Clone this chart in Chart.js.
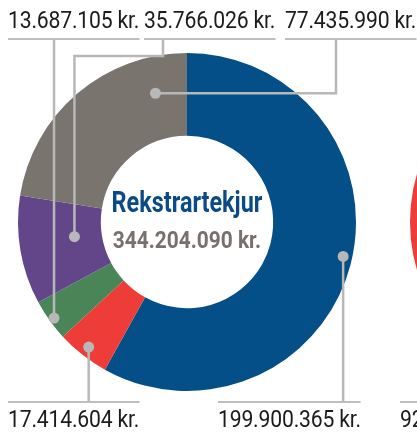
<!DOCTYPE html>
<html>
<head>
<meta charset="utf-8">
<script src="https://cdn.jsdelivr.net/npm/chart.js@4/dist/chart.umd.min.js"></script>
<style>
  html, body { margin: 0; padding: 0; }
  body {
    width: 417px; height: 436px; overflow: hidden; position: relative; background: #fff;
    font-family: Roboto, "Liberation Sans", sans-serif;
  }
  canvas { position: absolute; }
  .lbl {
    position: absolute; font-size: 23px; line-height: 22px; color: #1b1b1b; white-space: nowrap;
    letter-spacing: -0.2px; transform: scaleX(0.92); transform-origin: 0 0;
  }
  .lbl.top { top: 10px; padding-bottom: 6px; border-bottom: 2px solid #bfbfbf; }
  .lbl.bottom { top: 401px; padding-top: 6px; border-top: 2px solid #bfbfbf; }
  #center { position: absolute; left: 87px; width: 200px; top: 186px; text-align: center; font-weight: bold; }
  #center div { white-space: nowrap; }
  #center .title { font-size: 30px; line-height: 32px; color: #0b4a85; transform: scaleX(0.78); }
  #center .total { font-size: 24px; line-height: 30px; color: #77716d; margin-top: 7px; transform: scaleX(0.87); }
</style>
</head>
<body>
<canvas id="main" width="417" height="436" style="left:0;top:0"></canvas>
<canvas id="next" width="340" height="340" style="left:410px;top:52px"></canvas>

<div id="center"><div class="title">Rekstrartekjur</div><div class="total" id="total"></div></div>

<div class="lbl top" id="lbl2" style="left:8px"></div>
<div class="lbl top" id="lbl3" style="left:144px"></div>
<div class="lbl top" id="lbl4" style="left:285px"></div>
<div class="lbl bottom" id="lbl1" style="left:8px"></div>
<div class="lbl bottom" id="lbl0" style="left:218px"></div>
<div class="lbl bottom" style="left:400px">92</div>

<script>
// data (Icelandic krónur)
const categories = ['A', 'B', 'C', 'D', 'E'];
const values = [199900365, 17414604, 13687105, 35766026, 77435990];
const colors = ['#044f88', '#ee3d38', '#4a8558', '#634689', '#7a746f'];
// the next doughnut, cut off by the right edge
const nextValues = [1];
const nextColors = ['#ee3d38'];

const TOP_RULE = 40;
const BOTTOM_RULE = 402;
const lineColor = '#b8b8b8';

function kr(v) {
    return String(v).replace(/\B(?=(\d{3})+(?!\d))/g, '.') + ' kr.';
}

// where each dot sits inside its slice (t = along the arc, r = across the ring) and how the line runs
const leaders = [
    { index: 0, t: 0.49, r: 0.89, route: p => [[p[0], p[1]], [p[0], BOTTOM_RULE]] },
    { index: 1, t: 0.50, r: 0.88, route: p => [[p[0], p[1]], [p[0], BOTTOM_RULE]] },
    { index: 2, t: 0.48, r: 0.94, route: p => [[p[0], p[1]], [p[0], TOP_RULE]] },
    { index: 3, t: 0.56, r: 0.33, route: p => [[p[0], p[1]], [p[0], 56], [163, 56], [163, TOP_RULE]] },
    { index: 4, t: 0.83, r: 0.56, route: p => [[p[0], p[1]], [336, p[1]], [336, TOP_RULE]] }
];

const leaderPlugin = {
    id: 'leaders',
    afterDatasetsDraw(chart) {
        const ctx = chart.ctx;
        const arcs = chart.getDatasetMeta(0).data;
        ctx.save();
        ctx.strokeStyle = lineColor;
        ctx.fillStyle = lineColor;
        ctx.lineWidth = 2.5;
        leaders.forEach(l => {
            const a = arcs[l.index];
            const ang = a.startAngle + l.t * (a.endAngle - a.startAngle);
            const rad = a.innerRadius + l.r * (a.outerRadius - a.innerRadius);
            const p = [a.x + rad * Math.cos(ang), a.y + rad * Math.sin(ang)];
            const pts = l.route(p);
            ctx.beginPath();
            ctx.moveTo(pts[0][0], pts[0][1]);
            for (let i = 1; i < pts.length; i++) ctx.lineTo(pts[i][0], pts[i][1]);
            ctx.stroke();
            ctx.beginPath();
            ctx.arc(p[0], p[1], 5.5, 0, Math.PI * 2);
            ctx.fill();
        });
        ctx.restore();
    }
};

values.forEach((v, i) => {
    document.getElementById('lbl' + i).textContent = kr(v);
});
document.getElementById('total').textContent = kr(values.reduce((s, v) => s + v, 0));

new Chart(document.getElementById('main').getContext('2d'), {
    type: 'doughnut',
    data: {
        labels: categories,
        datasets: [{ data: values, backgroundColor: colors, borderWidth: 0 }]
    },
    options: {
        responsive: false,
        animation: false,
        cutout: '51%',
        layout: { padding: { left: 18, right: 61, top: 53, bottom: 45 } },
        plugins: { legend: { display: false }, tooltip: { enabled: false } }
    },
    plugins: [leaderPlugin]
});

new Chart(document.getElementById('next').getContext('2d'), {
    type: 'doughnut',
    data: { labels: ['next'], datasets: [{ data: nextValues, backgroundColor: nextColors, borderWidth: 0 }] },
    options: {
        responsive: false,
        animation: false,
        cutout: '51%',
        plugins: { legend: { display: false }, tooltip: { enabled: false } }
    }
});
</script>
</body>
</html>
